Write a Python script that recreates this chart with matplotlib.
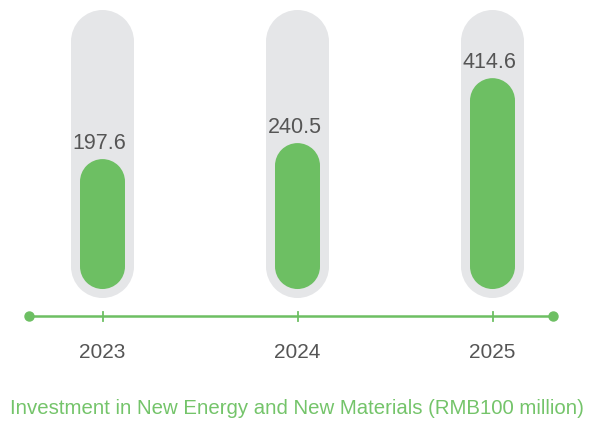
import matplotlib
matplotlib.use("Agg")
import matplotlib.pyplot as plt
from matplotlib.patches import Ellipse

years = ["2023", "2024", "2025"]
values = [197.6, 240.5, 414.6]
title = "Investment in New Energy and New Materials (RMB100 million)"

GREEN = "#6dbf63"
TITLE_GREEN = "#74c46a"
GRAY = "#e5e6e8"
TEXT = "#555555"
BAR_BASE = -150.7        # value where green bars start (visual offset)
TRACK_LOW, TRACK_HIGH = -174.8, 597.3

plt.rcParams['font.family'] = ['Liberation Sans', 'DejaVu Sans']

W, H = 589, 422
PX_X = 195.0     # pixels per category
PX_Y = 0.373     # pixels per value unit
fig = plt.figure(figsize=(W / 100, H / 100), dpi=100)
ax = fig.add_axes([0, 0, 1, 1])
ax.set_xlim(-102.5 / PX_X, (W - 102.5) / PX_X)
ax.set_ylim((232.8 - H) / PX_Y, 232.8 / PX_Y)
ax.axis("off")

aspect = PX_X / PX_Y   # y data units per x data unit for equal pixels


def capsule(xc, low, high, w, color, z):
    r_y = w / 2 * aspect
    ax.bar([xc], [high - low - 2 * r_y], bottom=[low + r_y], width=w,
           color=color, edgecolor="none", linewidth=0, zorder=z)
    for yc in (low + r_y, high - r_y):
        ax.add_patch(Ellipse((xc, yc), w, 2 * r_y, facecolor=color,
                             edgecolor="none", linewidth=0, zorder=z))


track_w = 63 / PX_X
bar_w = 45 / PX_X
for i, (yr, v) in enumerate(zip(years, values)):
    capsule(i, TRACK_LOW, TRACK_HIGH, track_w, GRAY, 1)
    capsule(i, BAR_BASE, v, bar_w, GREEN, 2)
    ax.annotate(f"{v:.1f}", (i, v), xytext=(-2, 4), textcoords="offset points",
                ha="center", va="bottom", fontsize=15.5, color=TEXT, zorder=3)

# timeline
ly = 1 - 316 / H
xl = -102.5 / PX_X + 29 / PX_X
xr = -102.5 / PX_X + 553 / PX_X
tr = ax.get_xaxis_transform()
ax.plot([xl, xr], [ly, ly], color=GREEN, lw=1.8, transform=tr, solid_capstyle="butt", zorder=2)
ax.plot([xl, xr], [ly, ly], 'o', color=GREEN, ms=6.5, transform=tr, zorder=3)
for i, yr in enumerate(years):
    ax.plot([i, i], [ly - 4.5 / H, ly + 4.5 / H], color=GREEN, lw=1.3, transform=tr, zorder=3)
    ax.text(i, 1 - 353 / H, yr, transform=tr, ha="center", va="center", fontsize=15, color=TEXT)

ax.text(0.5 + 2 / W, 1 - 409 / H, title, transform=ax.transAxes, ha="center", va="center",
        fontsize=14.7, color=TITLE_GREEN)

fig.savefig("out.png", dpi=100)
